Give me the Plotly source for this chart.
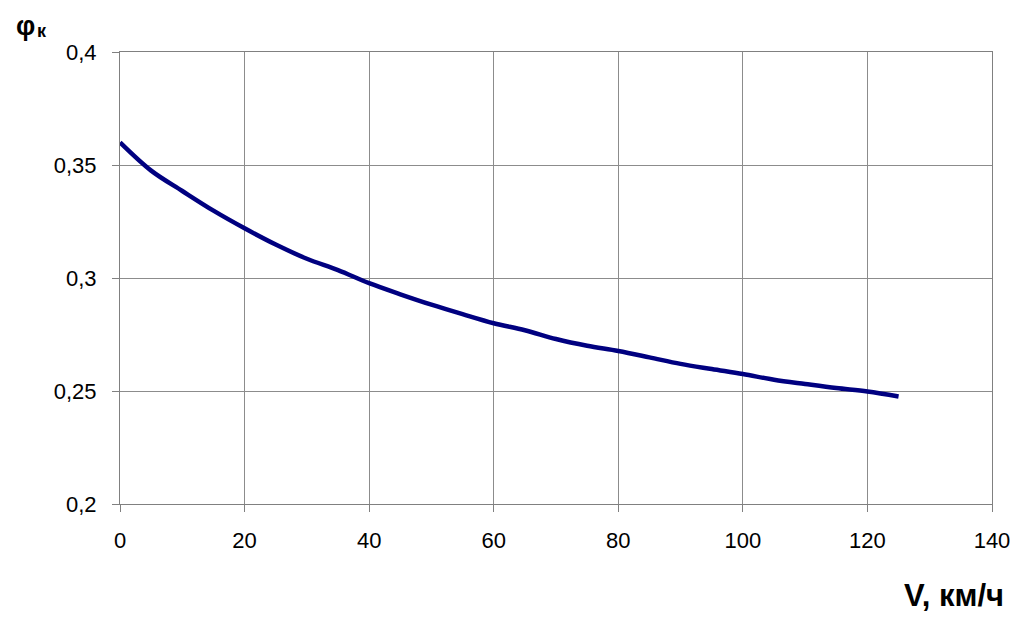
import plotly.graph_objects as go

# speed, km/h
speed = [0, 5, 10, 15, 20, 25, 30, 35, 40, 45, 50, 55, 60,
         65, 70, 75, 80, 85, 90, 95, 100, 105, 110, 115, 120, 125]
# adhesion coefficient phi_k
phi_k = [0.360, 0.3475, 0.3385, 0.3298, 0.322, 0.3148, 0.3085, 0.3035, 0.2977,
         0.2928, 0.2882, 0.284, 0.280, 0.2769, 0.273, 0.270, 0.2677, 0.2649,
         0.262, 0.2597, 0.2575, 0.255, 0.2531, 0.2513, 0.2498, 0.2476]

x_ticks = [0, 20, 40, 60, 80, 100, 120, 140]
y_ticks = [0.2, 0.25, 0.3, 0.35, 0.4]

fig = go.Figure()
fig.add_trace(go.Scatter(
    x=speed, y=phi_k, mode="lines",
    line=dict(color="#000080", width=4.5, shape="spline"),
    showlegend=False,
))

axis_style = dict(
    showgrid=True, gridcolor="#8c8c8c", gridwidth=1,
    showline=True, linecolor="#808080", linewidth=1, mirror=True,
    ticks="outside", ticklen=7, tickcolor="#808080",
    zeroline=False, automargin=False,
    tickfont=dict(family="Liberation Sans, Arial", size=22, color="black"),
)

fig.update_xaxes(range=[0, 140], tickvals=x_ticks, ticklabelstandoff=10, **axis_style)
fig.update_yaxes(range=[0.2, 0.4], tickvals=y_ticks, ticklabelstandoff=11, **axis_style)

# axis captions: phi with a small "к" index, and the speed unit
fig.add_annotation(
    text="<b>φ</b>", xref="paper", yref="paper",
    x=-0.1216, y=1.0575, xanchor="left", yanchor="middle", showarrow=False,
    font=dict(family="Liberation Sans, Arial", size=27, color="black"),
)
fig.add_annotation(
    text="<b>к</b>", xref="paper", yref="paper",
    x=-0.0975, y=1.0465, xanchor="left", yanchor="middle", showarrow=False,
    font=dict(family="Liberation Sans, Arial", size=18, color="black"),
)
fig.add_annotation(
    text="<b>V, км/ч</b>", xref="paper", yref="paper",
    x=1.016, y=-0.2035, xanchor="right", yanchor="middle", showarrow=False,
    font=dict(family="Liberation Sans, Arial", size=31, color="black"),
)

# page body adds 8px, so the figure is smaller than the window
fig.update_layout(
    width=1008, height=606,
    margin=dict(l=112, r=24, t=44, b=110),
    plot_bgcolor="white", paper_bgcolor="white",
    separators=", ",
)

fig.write_html("out.html")
